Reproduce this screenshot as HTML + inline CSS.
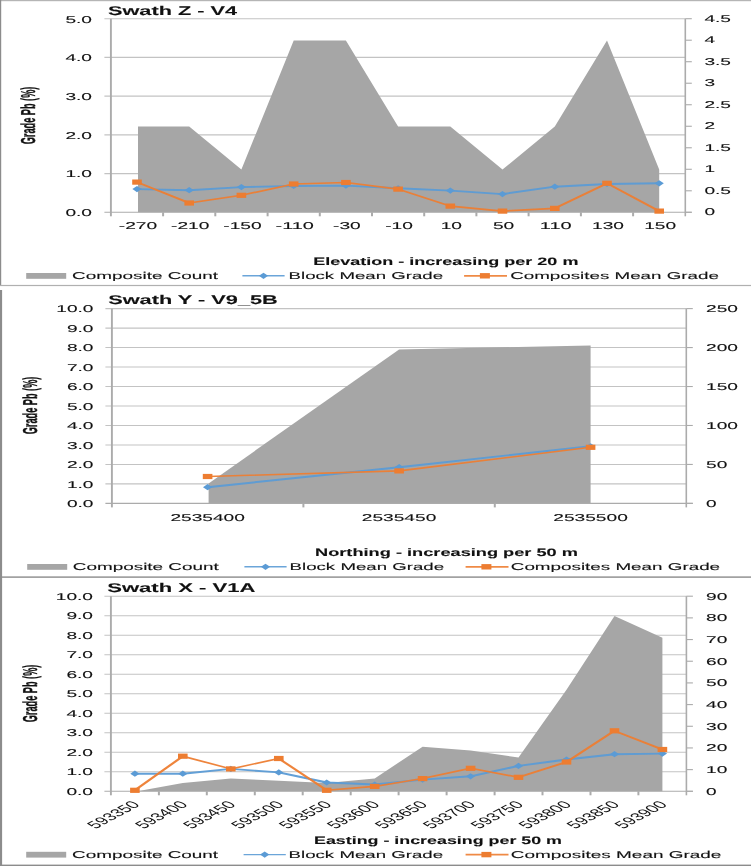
<!DOCTYPE html>
<html><head><meta charset="utf-8"><title>Swath plots</title>
<style>
html,body{margin:0;padding:0;background:#fff;}
body{width:751px;height:866px;overflow:hidden;position:relative;font-family:"Liberation Sans",sans-serif;}
svg{display:block;position:absolute;left:-10px;top:-10px;filter:blur(0.45px);}
text{font-family:"Liberation Sans",sans-serif;text-rendering:geometricPrecision;}
</style></head><body>
<svg width="771" height="886" viewBox="-10 -10 771 886">
<rect x="-10" y="-10" width="771" height="886" fill="#ffffff"/>
<line x1="104.4" y1="173.58" x2="685.3" y2="173.58" stroke="#c3c3c3" stroke-width="1.1"/>
<line x1="104.4" y1="134.86" x2="685.3" y2="134.86" stroke="#c3c3c3" stroke-width="1.1"/>
<line x1="104.4" y1="96.14" x2="685.3" y2="96.14" stroke="#c3c3c3" stroke-width="1.1"/>
<line x1="104.4" y1="57.42" x2="685.3" y2="57.42" stroke="#c3c3c3" stroke-width="1.1"/>
<line x1="104.4" y1="18.70" x2="685.3" y2="18.70" stroke="#c3c3c3" stroke-width="1.1"/>
<polygon points="138.0,212.3 138.0,126.6 189.2,126.6 241.4,169.6 293.7,40.5 345.9,40.5 398.1,126.6 450.3,126.6 502.5,169.6 554.8,126.6 607.0,40.5 659.2,169.6 659.2,212.3" fill="#a6a6a6"/>
<line x1="104.4" y1="212.30" x2="691.8" y2="212.30" stroke="#ababab" stroke-width="1.1"/>
<line x1="110.9" y1="18.7" x2="110.9" y2="216.3" stroke="#ababab" stroke-width="1.9"/>
<line x1="685.3" y1="18.7" x2="685.3" y2="216.3" stroke="#ababab" stroke-width="1.6"/>
<line x1="163.1" y1="212.3" x2="163.1" y2="216.3" stroke="#ababab" stroke-width="2"/>
<line x1="215.3" y1="212.3" x2="215.3" y2="216.3" stroke="#ababab" stroke-width="2"/>
<line x1="267.6" y1="212.3" x2="267.6" y2="216.3" stroke="#ababab" stroke-width="2"/>
<line x1="319.8" y1="212.3" x2="319.8" y2="216.3" stroke="#ababab" stroke-width="2"/>
<line x1="372.0" y1="212.3" x2="372.0" y2="216.3" stroke="#ababab" stroke-width="2"/>
<line x1="424.2" y1="212.3" x2="424.2" y2="216.3" stroke="#ababab" stroke-width="2"/>
<line x1="476.4" y1="212.3" x2="476.4" y2="216.3" stroke="#ababab" stroke-width="2"/>
<line x1="528.6" y1="212.3" x2="528.6" y2="216.3" stroke="#ababab" stroke-width="2"/>
<line x1="580.9" y1="212.3" x2="580.9" y2="216.3" stroke="#ababab" stroke-width="2"/>
<line x1="633.1" y1="212.3" x2="633.1" y2="216.3" stroke="#ababab" stroke-width="2"/>
<line x1="685.3" y1="212.30" x2="691.8" y2="212.30" stroke="#ababab" stroke-width="1.1"/>
<text x="704.4" y="215.4" font-size="9.9" text-anchor="start" textLength="10.6" lengthAdjust="spacingAndGlyphs" fill="#111" stroke="#111" stroke-width="0.1" >0</text>
<line x1="685.3" y1="190.79" x2="691.8" y2="190.79" stroke="#ababab" stroke-width="1.1"/>
<text x="704.4" y="193.9" font-size="9.9" text-anchor="start" textLength="26.6" lengthAdjust="spacingAndGlyphs" fill="#111" stroke="#111" stroke-width="0.1" >0.5</text>
<line x1="685.3" y1="169.28" x2="691.8" y2="169.28" stroke="#ababab" stroke-width="1.1"/>
<text x="704.4" y="172.4" font-size="9.9" text-anchor="start" textLength="10.6" lengthAdjust="spacingAndGlyphs" fill="#111" stroke="#111" stroke-width="0.1" >1</text>
<line x1="685.3" y1="147.77" x2="691.8" y2="147.77" stroke="#ababab" stroke-width="1.1"/>
<text x="704.4" y="150.9" font-size="9.9" text-anchor="start" textLength="26.6" lengthAdjust="spacingAndGlyphs" fill="#111" stroke="#111" stroke-width="0.1" >1.5</text>
<line x1="685.3" y1="126.26" x2="691.8" y2="126.26" stroke="#ababab" stroke-width="1.1"/>
<text x="704.4" y="129.4" font-size="9.9" text-anchor="start" textLength="10.6" lengthAdjust="spacingAndGlyphs" fill="#111" stroke="#111" stroke-width="0.1" >2</text>
<line x1="685.3" y1="104.74" x2="691.8" y2="104.74" stroke="#ababab" stroke-width="1.1"/>
<text x="704.4" y="107.8" font-size="9.9" text-anchor="start" textLength="26.6" lengthAdjust="spacingAndGlyphs" fill="#111" stroke="#111" stroke-width="0.1" >2.5</text>
<line x1="685.3" y1="83.23" x2="691.8" y2="83.23" stroke="#ababab" stroke-width="1.1"/>
<text x="704.4" y="86.3" font-size="9.9" text-anchor="start" textLength="10.6" lengthAdjust="spacingAndGlyphs" fill="#111" stroke="#111" stroke-width="0.1" >3</text>
<line x1="685.3" y1="61.72" x2="691.8" y2="61.72" stroke="#ababab" stroke-width="1.1"/>
<text x="704.4" y="64.8" font-size="9.9" text-anchor="start" textLength="26.6" lengthAdjust="spacingAndGlyphs" fill="#111" stroke="#111" stroke-width="0.1" >3.5</text>
<line x1="685.3" y1="40.21" x2="691.8" y2="40.21" stroke="#ababab" stroke-width="1.1"/>
<text x="704.4" y="43.3" font-size="9.9" text-anchor="start" textLength="10.6" lengthAdjust="spacingAndGlyphs" fill="#111" stroke="#111" stroke-width="0.1" >4</text>
<line x1="685.3" y1="18.70" x2="691.8" y2="18.70" stroke="#ababab" stroke-width="1.1"/>
<text x="704.4" y="21.8" font-size="9.9" text-anchor="start" textLength="26.6" lengthAdjust="spacingAndGlyphs" fill="#111" stroke="#111" stroke-width="0.1" >4.5</text>
<text x="65.4" y="216.1" font-size="9.9" text-anchor="start" textLength="26.6" lengthAdjust="spacingAndGlyphs" fill="#111" stroke="#111" stroke-width="0.1" >0.0</text>
<text x="65.4" y="177.4" font-size="9.9" text-anchor="start" textLength="26.6" lengthAdjust="spacingAndGlyphs" fill="#111" stroke="#111" stroke-width="0.1" >1.0</text>
<text x="65.4" y="138.7" font-size="9.9" text-anchor="start" textLength="26.6" lengthAdjust="spacingAndGlyphs" fill="#111" stroke="#111" stroke-width="0.1" >2.0</text>
<text x="65.4" y="99.9" font-size="9.9" text-anchor="start" textLength="26.6" lengthAdjust="spacingAndGlyphs" fill="#111" stroke="#111" stroke-width="0.1" >3.0</text>
<text x="65.4" y="61.2" font-size="9.9" text-anchor="start" textLength="26.6" lengthAdjust="spacingAndGlyphs" fill="#111" stroke="#111" stroke-width="0.1" >4.0</text>
<text x="65.4" y="22.5" font-size="9.9" text-anchor="start" textLength="26.6" lengthAdjust="spacingAndGlyphs" fill="#111" stroke="#111" stroke-width="0.1" >5.0</text>
<polyline transform="scale(1.9,1)" points="72.11,189.1 99.59,190.2 127.08,187.1 154.56,186.0 182.04,185.6 209.53,188.3 237.01,190.6 264.49,194.1 291.98,186.7 319.46,184.0 346.94,183.3" fill="none" stroke="#5b9bd5" stroke-width="1.9" stroke-opacity="0.95" stroke-linejoin="round"/>
<polygon points="132.4,189.1 137.0,186.0 141.6,189.1 137.0,192.2" fill="#5b9bd5"/>
<polygon points="184.6,190.2 189.2,187.1 193.8,190.2 189.2,193.3" fill="#5b9bd5"/>
<polygon points="236.8,187.1 241.4,184.0 246.0,187.1 241.4,190.2" fill="#5b9bd5"/>
<polygon points="289.1,186.0 293.7,182.9 298.3,186.0 293.7,189.1" fill="#5b9bd5"/>
<polygon points="341.3,185.6 345.9,182.5 350.5,185.6 345.9,188.7" fill="#5b9bd5"/>
<polygon points="393.5,188.3 398.1,185.2 402.7,188.3 398.1,191.4" fill="#5b9bd5"/>
<polygon points="445.7,190.6 450.3,187.5 454.9,190.6 450.3,193.7" fill="#5b9bd5"/>
<polygon points="497.9,194.1 502.5,191.0 507.1,194.1 502.5,197.2" fill="#5b9bd5"/>
<polygon points="550.2,186.7 554.8,183.6 559.4,186.7 554.8,189.8" fill="#5b9bd5"/>
<polygon points="602.4,184.0 607.0,180.9 611.6,184.0 607.0,187.1" fill="#5b9bd5"/>
<polygon points="654.6,183.3 659.2,180.2 663.8,183.3 659.2,186.4" fill="#5b9bd5"/>
<polyline transform="scale(1.9,1)" points="72.11,182.1 99.59,203.0 127.08,195.3 154.56,184.0 182.04,182.5 209.53,189.1 237.01,206.1 264.49,211.1 291.98,208.4 319.46,183.3 346.94,211.1" fill="none" stroke="#ed7d31" stroke-width="1.6" stroke-opacity="0.95" stroke-linejoin="round"/>
<rect x="132.2" y="179.5" width="9.6" height="5.2" fill="#ed7d31"/>
<rect x="184.4" y="200.4" width="9.6" height="5.2" fill="#ed7d31"/>
<rect x="236.6" y="192.7" width="9.6" height="5.2" fill="#ed7d31"/>
<rect x="288.9" y="181.4" width="9.6" height="5.2" fill="#ed7d31"/>
<rect x="341.1" y="179.9" width="9.6" height="5.2" fill="#ed7d31"/>
<rect x="393.3" y="186.5" width="9.6" height="5.2" fill="#ed7d31"/>
<rect x="445.5" y="203.5" width="9.6" height="5.2" fill="#ed7d31"/>
<rect x="497.7" y="208.5" width="9.6" height="5.2" fill="#ed7d31"/>
<rect x="550.0" y="205.8" width="9.6" height="5.2" fill="#ed7d31"/>
<rect x="602.2" y="180.7" width="9.6" height="5.2" fill="#ed7d31"/>
<rect x="654.4" y="208.5" width="9.6" height="5.2" fill="#ed7d31"/>
<text x="118.8" y="229.1" font-size="9.9" text-anchor="start" textLength="38.4" lengthAdjust="spacingAndGlyphs" fill="#111" stroke="#111" stroke-width="0.1" >-270</text>
<text x="171.0" y="229.1" font-size="9.9" text-anchor="start" textLength="38.4" lengthAdjust="spacingAndGlyphs" fill="#111" stroke="#111" stroke-width="0.1" >-210</text>
<text x="223.3" y="229.1" font-size="9.9" text-anchor="start" textLength="38.4" lengthAdjust="spacingAndGlyphs" fill="#111" stroke="#111" stroke-width="0.1" >-150</text>
<text x="275.5" y="229.1" font-size="9.9" text-anchor="start" textLength="38.4" lengthAdjust="spacingAndGlyphs" fill="#111" stroke="#111" stroke-width="0.1" >-110</text>
<text x="333.0" y="229.1" font-size="9.9" text-anchor="start" textLength="27.7" lengthAdjust="spacingAndGlyphs" fill="#111" stroke="#111" stroke-width="0.1" >-30</text>
<text x="385.2" y="229.1" font-size="9.9" text-anchor="start" textLength="27.7" lengthAdjust="spacingAndGlyphs" fill="#111" stroke="#111" stroke-width="0.1" >-10</text>
<text x="440.7" y="229.1" font-size="9.9" text-anchor="start" textLength="21.3" lengthAdjust="spacingAndGlyphs" fill="#111" stroke="#111" stroke-width="0.1" >10</text>
<text x="492.9" y="229.1" font-size="9.9" text-anchor="start" textLength="21.3" lengthAdjust="spacingAndGlyphs" fill="#111" stroke="#111" stroke-width="0.1" >50</text>
<text x="539.8" y="229.1" font-size="9.9" text-anchor="start" textLength="31.9" lengthAdjust="spacingAndGlyphs" fill="#111" stroke="#111" stroke-width="0.1" >110</text>
<text x="592.0" y="229.1" font-size="9.9" text-anchor="start" textLength="31.9" lengthAdjust="spacingAndGlyphs" fill="#111" stroke="#111" stroke-width="0.1" >130</text>
<text x="644.2" y="229.1" font-size="9.9" text-anchor="start" textLength="31.9" lengthAdjust="spacingAndGlyphs" fill="#111" stroke="#111" stroke-width="0.1" >150</text>
<text x="108.0" y="15.0" font-size="12.6" text-anchor="start" font-weight="bold" textLength="129.0" lengthAdjust="spacingAndGlyphs" fill="#111" stroke="#111" stroke-width="0.1" >Swath Z - V4</text>
<text x="313.3" y="264.7" font-size="10.8" text-anchor="start" font-weight="bold" textLength="265.1" lengthAdjust="spacingAndGlyphs" fill="#111" stroke="#111" stroke-width="0.1" >Elevation - increasing per 20 m</text>
<text transform="translate(35.2,144.3) scale(1.9,1) rotate(-90)" font-size="10.6" font-weight="bold" stroke="#111" stroke-width="0.2" textLength="57.7" lengthAdjust="spacingAndGlyphs" fill="#111">Grade Pb (%)</text>
<rect x="26.2" y="273" width="40" height="5.8" fill="#a6a6a6"/>
<text x="72.1" y="279.3" font-size="9.9" text-anchor="start" textLength="146.0" lengthAdjust="spacingAndGlyphs" fill="#111" stroke="#111" stroke-width="0.1" >Composite Count</text>
<line x1="242.4" y1="275.8" x2="284.6" y2="275.8" stroke="#5b9bd5" stroke-width="1.4" stroke-opacity="0.9"/>
<polygon points="258.9,275.8 263.5,272.7 268.1,275.8 263.5,278.9" fill="#5b9bd5"/>
<text x="288.6" y="279.3" font-size="9.9" text-anchor="start" textLength="154.5" lengthAdjust="spacingAndGlyphs" fill="#111" stroke="#111" stroke-width="0.1" >Block Mean Grade</text>
<line x1="464.1" y1="275.8" x2="507.0" y2="275.8" stroke="#ed7d31" stroke-width="1.7" stroke-opacity="0.9"/>
<rect x="479.9" y="273.1" width="10" height="5.4" fill="#ed7d31"/>
<text x="510.2" y="279.3" font-size="9.9" text-anchor="start" textLength="208.7" lengthAdjust="spacingAndGlyphs" fill="#111" stroke="#111" stroke-width="0.1" >Composites Mean Grade</text>
<line x1="105.4" y1="483.92" x2="686.3" y2="483.92" stroke="#c3c3c3" stroke-width="1.1"/>
<line x1="105.4" y1="464.44" x2="686.3" y2="464.44" stroke="#c3c3c3" stroke-width="1.1"/>
<line x1="105.4" y1="444.96" x2="686.3" y2="444.96" stroke="#c3c3c3" stroke-width="1.1"/>
<line x1="105.4" y1="425.48" x2="686.3" y2="425.48" stroke="#c3c3c3" stroke-width="1.1"/>
<line x1="105.4" y1="406.00" x2="686.3" y2="406.00" stroke="#c3c3c3" stroke-width="1.1"/>
<line x1="105.4" y1="386.52" x2="686.3" y2="386.52" stroke="#c3c3c3" stroke-width="1.1"/>
<line x1="105.4" y1="367.04" x2="686.3" y2="367.04" stroke="#c3c3c3" stroke-width="1.1"/>
<line x1="105.4" y1="347.56" x2="686.3" y2="347.56" stroke="#c3c3c3" stroke-width="1.1"/>
<line x1="105.4" y1="328.08" x2="686.3" y2="328.08" stroke="#c3c3c3" stroke-width="1.1"/>
<line x1="105.4" y1="308.60" x2="686.3" y2="308.60" stroke="#c3c3c3" stroke-width="1.1"/>
<polygon points="208.6,503.4 208.6,483.4 399.1,349.4 590.6,345.5 590.6,503.4" fill="#a6a6a6"/>
<line x1="105.4" y1="503.40" x2="692.8" y2="503.40" stroke="#ababab" stroke-width="1.1"/>
<line x1="111.9" y1="308.6" x2="111.9" y2="507.4" stroke="#ababab" stroke-width="1.9"/>
<line x1="686.3" y1="308.6" x2="686.3" y2="507.4" stroke="#ababab" stroke-width="1.6"/>
<line x1="303.4" y1="503.4" x2="303.4" y2="507.4" stroke="#ababab" stroke-width="2"/>
<line x1="494.8" y1="503.4" x2="494.8" y2="507.4" stroke="#ababab" stroke-width="2"/>
<line x1="686.3" y1="503.40" x2="692.8" y2="503.40" stroke="#ababab" stroke-width="1.1"/>
<text x="706.0" y="507.2" font-size="9.9" text-anchor="start" textLength="10.6" lengthAdjust="spacingAndGlyphs" fill="#111" stroke="#111" stroke-width="0.1" >0</text>
<line x1="686.3" y1="464.44" x2="692.8" y2="464.44" stroke="#ababab" stroke-width="1.1"/>
<text x="706.0" y="468.2" font-size="9.9" text-anchor="start" textLength="21.3" lengthAdjust="spacingAndGlyphs" fill="#111" stroke="#111" stroke-width="0.1" >50</text>
<line x1="686.3" y1="425.48" x2="692.8" y2="425.48" stroke="#ababab" stroke-width="1.1"/>
<text x="706.0" y="429.3" font-size="9.9" text-anchor="start" textLength="31.9" lengthAdjust="spacingAndGlyphs" fill="#111" stroke="#111" stroke-width="0.1" >100</text>
<line x1="686.3" y1="386.52" x2="692.8" y2="386.52" stroke="#ababab" stroke-width="1.1"/>
<text x="706.0" y="390.3" font-size="9.9" text-anchor="start" textLength="31.9" lengthAdjust="spacingAndGlyphs" fill="#111" stroke="#111" stroke-width="0.1" >150</text>
<line x1="686.3" y1="347.56" x2="692.8" y2="347.56" stroke="#ababab" stroke-width="1.1"/>
<text x="706.0" y="351.4" font-size="9.9" text-anchor="start" textLength="31.9" lengthAdjust="spacingAndGlyphs" fill="#111" stroke="#111" stroke-width="0.1" >200</text>
<line x1="686.3" y1="308.60" x2="692.8" y2="308.60" stroke="#ababab" stroke-width="1.1"/>
<text x="706.0" y="312.4" font-size="9.9" text-anchor="start" textLength="31.9" lengthAdjust="spacingAndGlyphs" fill="#111" stroke="#111" stroke-width="0.1" >250</text>
<text x="66.9" y="507.0" font-size="9.9" text-anchor="start" textLength="26.6" lengthAdjust="spacingAndGlyphs" fill="#111" stroke="#111" stroke-width="0.1" >0.0</text>
<text x="66.9" y="487.5" font-size="9.9" text-anchor="start" textLength="26.6" lengthAdjust="spacingAndGlyphs" fill="#111" stroke="#111" stroke-width="0.1" >1.0</text>
<text x="66.9" y="468.0" font-size="9.9" text-anchor="start" textLength="26.6" lengthAdjust="spacingAndGlyphs" fill="#111" stroke="#111" stroke-width="0.1" >2.0</text>
<text x="66.9" y="448.6" font-size="9.9" text-anchor="start" textLength="26.6" lengthAdjust="spacingAndGlyphs" fill="#111" stroke="#111" stroke-width="0.1" >3.0</text>
<text x="66.9" y="429.1" font-size="9.9" text-anchor="start" textLength="26.6" lengthAdjust="spacingAndGlyphs" fill="#111" stroke="#111" stroke-width="0.1" >4.0</text>
<text x="66.9" y="409.6" font-size="9.9" text-anchor="start" textLength="26.6" lengthAdjust="spacingAndGlyphs" fill="#111" stroke="#111" stroke-width="0.1" >5.0</text>
<text x="66.9" y="390.1" font-size="9.9" text-anchor="start" textLength="26.6" lengthAdjust="spacingAndGlyphs" fill="#111" stroke="#111" stroke-width="0.1" >6.0</text>
<text x="66.9" y="370.6" font-size="9.9" text-anchor="start" textLength="26.6" lengthAdjust="spacingAndGlyphs" fill="#111" stroke="#111" stroke-width="0.1" >7.0</text>
<text x="66.9" y="351.2" font-size="9.9" text-anchor="start" textLength="26.6" lengthAdjust="spacingAndGlyphs" fill="#111" stroke="#111" stroke-width="0.1" >8.0</text>
<text x="66.9" y="331.7" font-size="9.9" text-anchor="start" textLength="26.6" lengthAdjust="spacingAndGlyphs" fill="#111" stroke="#111" stroke-width="0.1" >9.0</text>
<text x="56.3" y="312.2" font-size="9.9" text-anchor="start" textLength="37.2" lengthAdjust="spacingAndGlyphs" fill="#111" stroke="#111" stroke-width="0.1" >10.0</text>
<polyline transform="scale(1.9,1)" points="109.28,487.2 210.05,467.2 310.82,446.3" fill="none" stroke="#5b9bd5" stroke-width="1.9" stroke-opacity="0.95" stroke-linejoin="round"/>
<polygon points="203.0,487.2 207.6,484.1 212.2,487.2 207.6,490.3" fill="#5b9bd5"/>
<polygon points="394.5,467.2 399.1,464.1 403.7,467.2 399.1,470.3" fill="#5b9bd5"/>
<polygon points="586.0,446.3 590.6,443.2 595.2,446.3 590.6,449.4" fill="#5b9bd5"/>
<polyline transform="scale(1.9,1)" points="109.28,476.5 210.05,470.9 310.82,447.3" fill="none" stroke="#ed7d31" stroke-width="1.6" stroke-opacity="0.95" stroke-linejoin="round"/>
<rect x="202.8" y="473.9" width="9.6" height="5.2" fill="#ed7d31"/>
<rect x="394.3" y="468.3" width="9.6" height="5.2" fill="#ed7d31"/>
<rect x="585.8" y="444.7" width="9.6" height="5.2" fill="#ed7d31"/>
<text x="170.4" y="520.6" font-size="9.9" text-anchor="start" textLength="74.5" lengthAdjust="spacingAndGlyphs" fill="#111" stroke="#111" stroke-width="0.1" >2535400</text>
<text x="361.8" y="520.6" font-size="9.9" text-anchor="start" textLength="74.5" lengthAdjust="spacingAndGlyphs" fill="#111" stroke="#111" stroke-width="0.1" >2535450</text>
<text x="553.3" y="520.6" font-size="9.9" text-anchor="start" textLength="74.5" lengthAdjust="spacingAndGlyphs" fill="#111" stroke="#111" stroke-width="0.1" >2535500</text>
<text x="108.2" y="303.5" font-size="12.6" text-anchor="start" font-weight="bold" textLength="169.6" lengthAdjust="spacingAndGlyphs" fill="#111" stroke="#111" stroke-width="0.1" >Swath Y - V9_5B</text>
<text x="315.0" y="555.5" font-size="10.8" text-anchor="start" font-weight="bold" textLength="263.0" lengthAdjust="spacingAndGlyphs" fill="#111" stroke="#111" stroke-width="0.1" >Northing - increasing per 50 m</text>
<text transform="translate(36.5,434.3) scale(1.9,1) rotate(-90)" font-size="10.6" font-weight="bold" stroke="#111" stroke-width="0.2" textLength="57.7" lengthAdjust="spacingAndGlyphs" fill="#111">Grade Pb (%)</text>
<rect x="27.2" y="564" width="40" height="5.8" fill="#a6a6a6"/>
<text x="72.8" y="570.3" font-size="9.9" text-anchor="start" textLength="146.0" lengthAdjust="spacingAndGlyphs" fill="#111" stroke="#111" stroke-width="0.1" >Composite Count</text>
<line x1="244.4" y1="566.8" x2="286.6" y2="566.8" stroke="#5b9bd5" stroke-width="1.4" stroke-opacity="0.9"/>
<polygon points="260.9,566.8 265.5,563.7 270.1,566.8 265.5,569.9" fill="#5b9bd5"/>
<text x="289.6" y="570.3" font-size="9.9" text-anchor="start" textLength="154.5" lengthAdjust="spacingAndGlyphs" fill="#111" stroke="#111" stroke-width="0.1" >Block Mean Grade</text>
<line x1="465.6" y1="566.8" x2="508.5" y2="566.8" stroke="#ed7d31" stroke-width="1.7" stroke-opacity="0.9"/>
<rect x="481.4" y="564.1" width="10" height="5.4" fill="#ed7d31"/>
<text x="510.8" y="570.3" font-size="9.9" text-anchor="start" textLength="209.3" lengthAdjust="spacingAndGlyphs" fill="#111" stroke="#111" stroke-width="0.1" >Composites Mean Grade</text>
<line x1="104.4" y1="771.79" x2="686.4" y2="771.79" stroke="#c3c3c3" stroke-width="1.1"/>
<line x1="104.4" y1="752.28" x2="686.4" y2="752.28" stroke="#c3c3c3" stroke-width="1.1"/>
<line x1="104.4" y1="732.77" x2="686.4" y2="732.77" stroke="#c3c3c3" stroke-width="1.1"/>
<line x1="104.4" y1="713.26" x2="686.4" y2="713.26" stroke="#c3c3c3" stroke-width="1.1"/>
<line x1="104.4" y1="693.75" x2="686.4" y2="693.75" stroke="#c3c3c3" stroke-width="1.1"/>
<line x1="104.4" y1="674.24" x2="686.4" y2="674.24" stroke="#c3c3c3" stroke-width="1.1"/>
<line x1="104.4" y1="654.73" x2="686.4" y2="654.73" stroke="#c3c3c3" stroke-width="1.1"/>
<line x1="104.4" y1="635.22" x2="686.4" y2="635.22" stroke="#c3c3c3" stroke-width="1.1"/>
<line x1="104.4" y1="615.71" x2="686.4" y2="615.71" stroke="#c3c3c3" stroke-width="1.1"/>
<line x1="104.4" y1="596.20" x2="686.4" y2="596.20" stroke="#c3c3c3" stroke-width="1.1"/>
<polygon points="135.9,791.3 135.9,791.6 182.8,782.9 230.8,778.6 278.8,780.8 326.7,782.9 374.7,778.4 422.6,746.7 470.6,750.4 518.5,757.6 566.5,689.7 614.5,616.0 662.4,637.7 662.4,791.3" fill="#a6a6a6"/>
<line x1="104.4" y1="791.30" x2="692.9" y2="791.30" stroke="#ababab" stroke-width="1.1"/>
<line x1="110.9" y1="596.2" x2="110.9" y2="795.3" stroke="#ababab" stroke-width="1.9"/>
<line x1="686.4" y1="596.2" x2="686.4" y2="795.3" stroke="#ababab" stroke-width="1.6"/>
<line x1="158.9" y1="791.3" x2="158.9" y2="795.3" stroke="#ababab" stroke-width="2"/>
<line x1="206.8" y1="791.3" x2="206.8" y2="795.3" stroke="#ababab" stroke-width="2"/>
<line x1="254.8" y1="791.3" x2="254.8" y2="795.3" stroke="#ababab" stroke-width="2"/>
<line x1="302.7" y1="791.3" x2="302.7" y2="795.3" stroke="#ababab" stroke-width="2"/>
<line x1="350.7" y1="791.3" x2="350.7" y2="795.3" stroke="#ababab" stroke-width="2"/>
<line x1="398.6" y1="791.3" x2="398.6" y2="795.3" stroke="#ababab" stroke-width="2"/>
<line x1="446.6" y1="791.3" x2="446.6" y2="795.3" stroke="#ababab" stroke-width="2"/>
<line x1="494.6" y1="791.3" x2="494.6" y2="795.3" stroke="#ababab" stroke-width="2"/>
<line x1="542.5" y1="791.3" x2="542.5" y2="795.3" stroke="#ababab" stroke-width="2"/>
<line x1="590.5" y1="791.3" x2="590.5" y2="795.3" stroke="#ababab" stroke-width="2"/>
<line x1="638.4" y1="791.3" x2="638.4" y2="795.3" stroke="#ababab" stroke-width="2"/>
<line x1="686.4" y1="791.30" x2="692.9" y2="791.30" stroke="#ababab" stroke-width="1.1"/>
<text x="706.0" y="794.6" font-size="9.9" text-anchor="start" textLength="10.6" lengthAdjust="spacingAndGlyphs" fill="#111" stroke="#111" stroke-width="0.1" >0</text>
<line x1="686.4" y1="769.62" x2="692.9" y2="769.62" stroke="#ababab" stroke-width="1.1"/>
<text x="706.0" y="772.9" font-size="9.9" text-anchor="start" textLength="21.3" lengthAdjust="spacingAndGlyphs" fill="#111" stroke="#111" stroke-width="0.1" >10</text>
<line x1="686.4" y1="747.94" x2="692.9" y2="747.94" stroke="#ababab" stroke-width="1.1"/>
<text x="706.0" y="751.2" font-size="9.9" text-anchor="start" textLength="21.3" lengthAdjust="spacingAndGlyphs" fill="#111" stroke="#111" stroke-width="0.1" >20</text>
<line x1="686.4" y1="726.27" x2="692.9" y2="726.27" stroke="#ababab" stroke-width="1.1"/>
<text x="706.0" y="729.6" font-size="9.9" text-anchor="start" textLength="21.3" lengthAdjust="spacingAndGlyphs" fill="#111" stroke="#111" stroke-width="0.1" >30</text>
<line x1="686.4" y1="704.59" x2="692.9" y2="704.59" stroke="#ababab" stroke-width="1.1"/>
<text x="706.0" y="707.9" font-size="9.9" text-anchor="start" textLength="21.3" lengthAdjust="spacingAndGlyphs" fill="#111" stroke="#111" stroke-width="0.1" >40</text>
<line x1="686.4" y1="682.91" x2="692.9" y2="682.91" stroke="#ababab" stroke-width="1.1"/>
<text x="706.0" y="686.2" font-size="9.9" text-anchor="start" textLength="21.3" lengthAdjust="spacingAndGlyphs" fill="#111" stroke="#111" stroke-width="0.1" >50</text>
<line x1="686.4" y1="661.23" x2="692.9" y2="661.23" stroke="#ababab" stroke-width="1.1"/>
<text x="706.0" y="664.5" font-size="9.9" text-anchor="start" textLength="21.3" lengthAdjust="spacingAndGlyphs" fill="#111" stroke="#111" stroke-width="0.1" >60</text>
<line x1="686.4" y1="639.56" x2="692.9" y2="639.56" stroke="#ababab" stroke-width="1.1"/>
<text x="706.0" y="642.9" font-size="9.9" text-anchor="start" textLength="21.3" lengthAdjust="spacingAndGlyphs" fill="#111" stroke="#111" stroke-width="0.1" >70</text>
<line x1="686.4" y1="617.88" x2="692.9" y2="617.88" stroke="#ababab" stroke-width="1.1"/>
<text x="706.0" y="621.2" font-size="9.9" text-anchor="start" textLength="21.3" lengthAdjust="spacingAndGlyphs" fill="#111" stroke="#111" stroke-width="0.1" >80</text>
<line x1="686.4" y1="596.20" x2="692.9" y2="596.20" stroke="#ababab" stroke-width="1.1"/>
<text x="706.0" y="599.5" font-size="9.9" text-anchor="start" textLength="21.3" lengthAdjust="spacingAndGlyphs" fill="#111" stroke="#111" stroke-width="0.1" >90</text>
<text x="66.4" y="794.6" font-size="9.9" text-anchor="start" textLength="26.6" lengthAdjust="spacingAndGlyphs" fill="#111" stroke="#111" stroke-width="0.1" >0.0</text>
<text x="66.4" y="775.1" font-size="9.9" text-anchor="start" textLength="26.6" lengthAdjust="spacingAndGlyphs" fill="#111" stroke="#111" stroke-width="0.1" >1.0</text>
<text x="66.4" y="755.6" font-size="9.9" text-anchor="start" textLength="26.6" lengthAdjust="spacingAndGlyphs" fill="#111" stroke="#111" stroke-width="0.1" >2.0</text>
<text x="66.4" y="736.1" font-size="9.9" text-anchor="start" textLength="26.6" lengthAdjust="spacingAndGlyphs" fill="#111" stroke="#111" stroke-width="0.1" >3.0</text>
<text x="66.4" y="716.6" font-size="9.9" text-anchor="start" textLength="26.6" lengthAdjust="spacingAndGlyphs" fill="#111" stroke="#111" stroke-width="0.1" >4.0</text>
<text x="66.4" y="697.0" font-size="9.9" text-anchor="start" textLength="26.6" lengthAdjust="spacingAndGlyphs" fill="#111" stroke="#111" stroke-width="0.1" >5.0</text>
<text x="66.4" y="677.5" font-size="9.9" text-anchor="start" textLength="26.6" lengthAdjust="spacingAndGlyphs" fill="#111" stroke="#111" stroke-width="0.1" >6.0</text>
<text x="66.4" y="658.0" font-size="9.9" text-anchor="start" textLength="26.6" lengthAdjust="spacingAndGlyphs" fill="#111" stroke="#111" stroke-width="0.1" >7.0</text>
<text x="66.4" y="638.5" font-size="9.9" text-anchor="start" textLength="26.6" lengthAdjust="spacingAndGlyphs" fill="#111" stroke="#111" stroke-width="0.1" >8.0</text>
<text x="66.4" y="619.0" font-size="9.9" text-anchor="start" textLength="26.6" lengthAdjust="spacingAndGlyphs" fill="#111" stroke="#111" stroke-width="0.1" >9.0</text>
<text x="55.8" y="599.5" font-size="9.9" text-anchor="start" textLength="37.2" lengthAdjust="spacingAndGlyphs" fill="#111" stroke="#111" stroke-width="0.1" >10.0</text>
<polyline transform="scale(1.9,1)" points="70.99,773.7 96.23,773.7 121.47,768.9 146.71,772.4 171.95,782.5 197.20,784.5 222.44,779.6 247.68,776.3 272.92,765.9 298.16,759.5 323.40,754.2 348.64,753.6" fill="none" stroke="#5b9bd5" stroke-width="1.9" stroke-opacity="0.95" stroke-linejoin="round"/>
<polygon points="130.3,773.7 134.9,770.6 139.5,773.7 134.9,776.8" fill="#5b9bd5"/>
<polygon points="178.2,773.7 182.8,770.6 187.4,773.7 182.8,776.8" fill="#5b9bd5"/>
<polygon points="226.2,768.9 230.8,765.8 235.4,768.9 230.8,772.0" fill="#5b9bd5"/>
<polygon points="274.2,772.4 278.8,769.3 283.4,772.4 278.8,775.5" fill="#5b9bd5"/>
<polygon points="322.1,782.5 326.7,779.4 331.3,782.5 326.7,785.6" fill="#5b9bd5"/>
<polygon points="370.1,784.5 374.7,781.4 379.3,784.5 374.7,787.6" fill="#5b9bd5"/>
<polygon points="418.0,779.6 422.6,776.5 427.2,779.6 422.6,782.7" fill="#5b9bd5"/>
<polygon points="466.0,776.3 470.6,773.2 475.2,776.3 470.6,779.4" fill="#5b9bd5"/>
<polygon points="513.9,765.9 518.5,762.8 523.1,765.9 518.5,769.0" fill="#5b9bd5"/>
<polygon points="561.9,759.5 566.5,756.4 571.1,759.5 566.5,762.6" fill="#5b9bd5"/>
<polygon points="609.9,754.2 614.5,751.1 619.1,754.2 614.5,757.3" fill="#5b9bd5"/>
<polygon points="657.8,753.6 662.4,750.5 667.0,753.6 662.4,756.7" fill="#5b9bd5"/>
<polyline transform="scale(1.9,1)" points="70.99,790.3 96.23,756.2 121.47,768.9 146.71,758.5 171.95,790.3 197.20,786.4 222.44,778.6 247.68,768.3 272.92,777.3 298.16,762.0 323.40,730.8 348.64,749.5" fill="none" stroke="#ed7d31" stroke-width="1.6" stroke-opacity="0.95" stroke-linejoin="round"/>
<rect x="130.1" y="787.7" width="9.6" height="5.2" fill="#ed7d31"/>
<rect x="178.0" y="753.6" width="9.6" height="5.2" fill="#ed7d31"/>
<rect x="226.0" y="766.3" width="9.6" height="5.2" fill="#ed7d31"/>
<rect x="274.0" y="755.9" width="9.6" height="5.2" fill="#ed7d31"/>
<rect x="321.9" y="787.7" width="9.6" height="5.2" fill="#ed7d31"/>
<rect x="369.9" y="783.8" width="9.6" height="5.2" fill="#ed7d31"/>
<rect x="417.8" y="776.0" width="9.6" height="5.2" fill="#ed7d31"/>
<rect x="465.8" y="765.7" width="9.6" height="5.2" fill="#ed7d31"/>
<rect x="513.7" y="774.7" width="9.6" height="5.2" fill="#ed7d31"/>
<rect x="561.7" y="759.4" width="9.6" height="5.2" fill="#ed7d31"/>
<rect x="609.7" y="728.2" width="9.6" height="5.2" fill="#ed7d31"/>
<rect x="657.6" y="746.9" width="9.6" height="5.2" fill="#ed7d31"/>
<text transform="translate(140.9,805.3) scale(1.9,1) rotate(-45)" font-size="10.6" text-anchor="end" textLength="33.8" lengthAdjust="spacingAndGlyphs" fill="#111">593350</text>
<text transform="translate(188.8,805.3) scale(1.9,1) rotate(-45)" font-size="10.6" text-anchor="end" textLength="33.8" lengthAdjust="spacingAndGlyphs" fill="#111">593400</text>
<text transform="translate(236.8,805.3) scale(1.9,1) rotate(-45)" font-size="10.6" text-anchor="end" textLength="33.8" lengthAdjust="spacingAndGlyphs" fill="#111">593450</text>
<text transform="translate(284.8,805.3) scale(1.9,1) rotate(-45)" font-size="10.6" text-anchor="end" textLength="33.8" lengthAdjust="spacingAndGlyphs" fill="#111">593500</text>
<text transform="translate(332.7,805.3) scale(1.9,1) rotate(-45)" font-size="10.6" text-anchor="end" textLength="33.8" lengthAdjust="spacingAndGlyphs" fill="#111">593550</text>
<text transform="translate(380.7,805.3) scale(1.9,1) rotate(-45)" font-size="10.6" text-anchor="end" textLength="33.8" lengthAdjust="spacingAndGlyphs" fill="#111">593600</text>
<text transform="translate(428.6,805.3) scale(1.9,1) rotate(-45)" font-size="10.6" text-anchor="end" textLength="33.8" lengthAdjust="spacingAndGlyphs" fill="#111">593650</text>
<text transform="translate(476.6,805.3) scale(1.9,1) rotate(-45)" font-size="10.6" text-anchor="end" textLength="33.8" lengthAdjust="spacingAndGlyphs" fill="#111">593700</text>
<text transform="translate(524.5,805.3) scale(1.9,1) rotate(-45)" font-size="10.6" text-anchor="end" textLength="33.8" lengthAdjust="spacingAndGlyphs" fill="#111">593750</text>
<text transform="translate(572.5,805.3) scale(1.9,1) rotate(-45)" font-size="10.6" text-anchor="end" textLength="33.8" lengthAdjust="spacingAndGlyphs" fill="#111">593800</text>
<text transform="translate(620.5,805.3) scale(1.9,1) rotate(-45)" font-size="10.6" text-anchor="end" textLength="33.8" lengthAdjust="spacingAndGlyphs" fill="#111">593850</text>
<text transform="translate(668.4,805.3) scale(1.9,1) rotate(-45)" font-size="10.6" text-anchor="end" textLength="33.8" lengthAdjust="spacingAndGlyphs" fill="#111">593900</text>
<text x="107.2" y="591.5" font-size="12.6" text-anchor="start" font-weight="bold" textLength="148.3" lengthAdjust="spacingAndGlyphs" fill="#111" stroke="#111" stroke-width="0.1" >Swath X - V1A</text>
<text x="314.0" y="844.0" font-size="10.8" text-anchor="start" font-weight="bold" textLength="248.0" lengthAdjust="spacingAndGlyphs" fill="#111" stroke="#111" stroke-width="0.1" >Easting - increasing per 50 m</text>
<text transform="translate(36.5,722.3) scale(1.9,1) rotate(-90)" font-size="10.6" font-weight="bold" stroke="#111" stroke-width="0.2" textLength="57.7" lengthAdjust="spacingAndGlyphs" fill="#111">Grade Pb (%)</text>
<rect x="26.2" y="851.8" width="40" height="5.8" fill="#a6a6a6"/>
<text x="72.1" y="858.1" font-size="9.9" text-anchor="start" textLength="146.0" lengthAdjust="spacingAndGlyphs" fill="#111" stroke="#111" stroke-width="0.1" >Composite Count</text>
<line x1="243.6" y1="854.5999999999999" x2="285.8" y2="854.5999999999999" stroke="#5b9bd5" stroke-width="1.4" stroke-opacity="0.9"/>
<polygon points="260.1,854.6 264.7,851.5 269.3,854.6 264.7,857.7" fill="#5b9bd5"/>
<text x="288.6" y="858.1" font-size="9.9" text-anchor="start" textLength="154.5" lengthAdjust="spacingAndGlyphs" fill="#111" stroke="#111" stroke-width="0.1" >Block Mean Grade</text>
<line x1="465.6" y1="854.5999999999999" x2="508.5" y2="854.5999999999999" stroke="#ed7d31" stroke-width="1.7" stroke-opacity="0.9"/>
<rect x="481.4" y="851.9" width="10" height="5.4" fill="#ed7d31"/>
<text x="510.8" y="858.1" font-size="9.9" text-anchor="start" textLength="210.6" lengthAdjust="spacingAndGlyphs" fill="#111" stroke="#111" stroke-width="0.1" >Composites Mean Grade</text>
<rect x="-10" y="-10" width="771" height="11.2" fill="#b5b5b5"/>
<rect x="-10" y="-10" width="11.2" height="296" fill="#8c8c8c"/>
<rect x="-10" y="284.9" width="771" height="1.2" fill="#b0b0b0"/>
<rect x="-10" y="290" width="12.1" height="586" fill="#8c8c8c"/>
<rect x="-10" y="576.4" width="771" height="1.4" fill="#8c8c8c"/>
<rect x="-10" y="864.6" width="771" height="11.4" fill="#8c8c8c"/>
</svg>
</body></html>
